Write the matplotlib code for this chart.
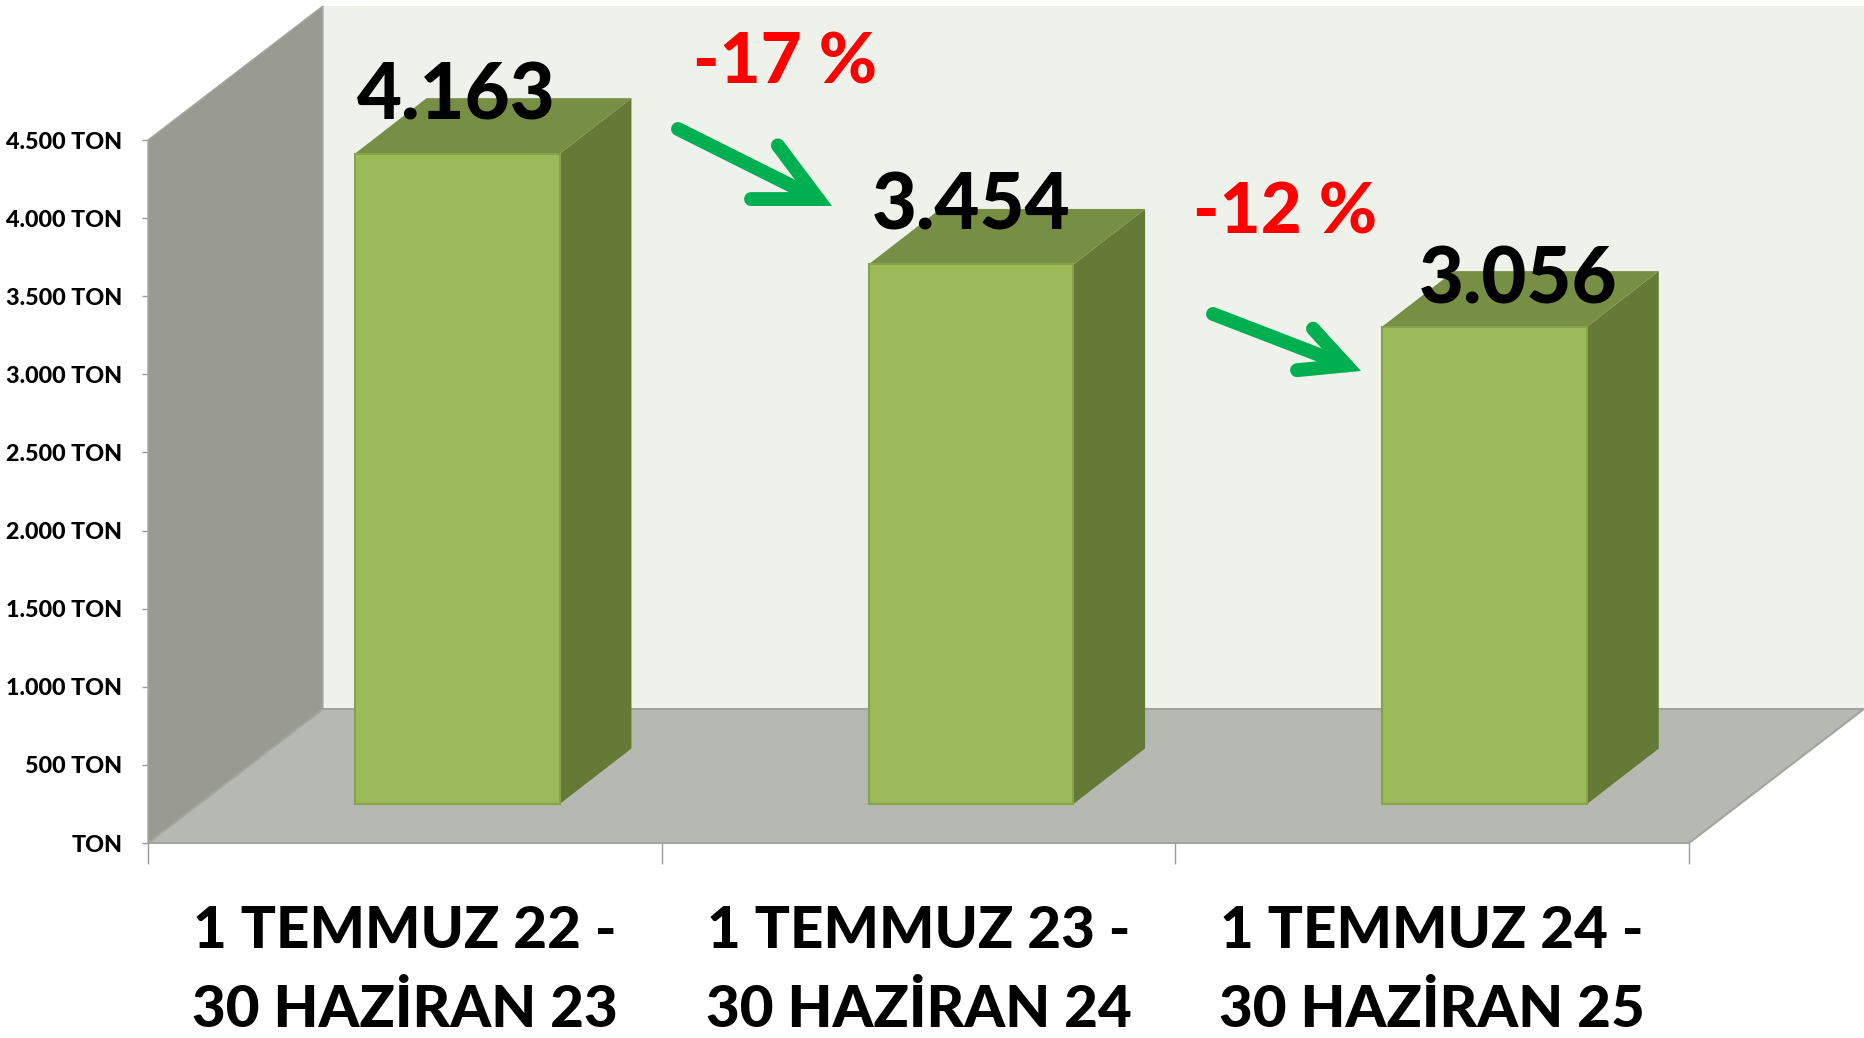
import matplotlib
matplotlib.use("Agg")
import matplotlib.pyplot as plt
from matplotlib.patches import Polygon

categories = ["1 TEMMUZ 22 -\n30 HAZİRAN 23", "1 TEMMUZ 23 -\n30 HAZİRAN 24", "1 TEMMUZ 24 -\n30 HAZİRAN 25"]
values = [4163, 3454, 3056]
value_labels = ["4.163", "3.454", "3.056"]
y_ticks = [0, 500, 1000, 1500, 2000, 2500, 3000, 3500, 4000, 4500]
y_tick_labels = ["TON", "500 TON", "1.000 TON", "1.500 TON", "2.000 TON", "2.500 TON",
                 "3.000 TON", "3.500 TON", "4.000 TON", "4.500 TON"]
change_labels = ["-17 %", "-12 %"]

W, H = 1864, 1038
plt.rcParams['font.family'] = ['Lato', 'DejaVu Sans']
fig = plt.figure(figsize=(W / 100, H / 100), dpi=100, facecolor='white')
ax = fig.add_axes([148 / W, (H - 843) / H, (1689 - 148) / W, 703 / H])
ax.set_xlim(0, 3)
ax.set_ylim(0, 4500)
ax.patch.set_visible(False)
for s in ax.spines.values():
    s.set_visible(False)

DX = 175 / 514
DY = 134 / (703 / 4500)
TOP = 4500


def poly(pts, fc, ec='none', lw=0, z=1):
    ax.add_patch(Polygon(pts, closed=True, facecolor=fc, edgecolor=ec, linewidth=lw,
                         zorder=z, clip_on=False))


# back wall, side wall, floor
poly([(DX, DY), (3 + DX, DY), (3 + DX, TOP + DY), (DX, TOP + DY)], '#EFF2EB', z=1)
poly([(0, 0), (DX, DY), (DX, TOP + DY), (0, TOP)], '#999B93', ec='#A6A8A0', lw=1, z=2)
poly([(0, 0), (3, 0), (3 + DX, DY), (DX, DY)], '#B6B9B1', ec='#A3A59D', lw=1.5, z=2)

# bars
BAR_W = 205 / 514
D0X, D0Y = 0.30, 0.291
OX, OY = 0.41, 0.414
for i, v in enumerate(values):
    c = i + 0.5 + D0X * DX
    x0, x1 = c - BAR_W / 2, c + BAR_W / 2
    y0 = D0Y * DY
    ox, oy = OX * DX, OY * DY
    poly([(x1, y0), (x1 + ox, y0 + oy), (x1 + ox, y0 + oy + v), (x1, y0 + v)], '#667A37', z=3)
    poly([(x0, y0 + v), (x1, y0 + v), (x1 + ox, y0 + v + oy), (x0 + ox, y0 + v + oy)], '#778E45', z=3)
    poly([(x0, y0), (x1, y0), (x1, y0 + v), (x0, y0 + v)], '#9BBB59', ec='#86A34A', lw=1.5, z=4)

# ticks
ax.set_yticks(y_ticks, y_tick_labels)
ax.tick_params(axis='y', length=4, width=1, color='#9A9A9A', pad=14.5, labelsize=16.8, labelcolor='black')
ax.set_xticks([0, 1, 2, 3], ['', '', '', ''])
ax.set_xticks([0.5, 1.5, 2.5], categories, minor=True)
ax.tick_params(axis='x', which='major', length=15, width=1, color='#9A9A9A')
ax.tick_params(axis='x', which='minor', length=0, pad=45, labelsize=42)
for t in ax.get_yticklabels() + ax.get_xticklabels(minor=True):
    t.set_fontweight(900)
for t in ax.get_xticklabels(minor=True):
    t.set_linespacing(1.6)


def px(x, y):
    return (x, H - y)


# value labels (pixel positions of the label text on the figure)
for lab, (x, y) in zip(value_labels, [(456, 119), (971, 229), (1518, 303)]):
    ax.annotate(lab, xy=px(x, y), xycoords='figure pixels', ha='center', va='baseline',
                fontsize=56, fontweight=900, color='black', zorder=8, annotation_clip=False)

for lab, (x, y) in zip(change_labels, [(785, 84), (1285, 234)]):
    ax.annotate(lab, xy=px(x, y), xycoords='figure pixels', ha='center', va='baseline',
                fontsize=51, fontweight=900, color='#FF0000', zorder=8, annotation_clip=False)

# arrows
for start, tip, hl, hw in [((678, 129), (832, 206), 2.7, 1.35), ((1213, 314), (1361, 371), 2.0, 1.0)]:
    ax.annotate('', xy=px(*tip), xytext=px(*start), xycoords='figure pixels', textcoords='figure pixels',
                arrowprops=dict(arrowstyle=f'->,head_length={hl},head_width={hw}', lw=10, color='#00B050',
                                shrinkA=0, shrinkB=0, joinstyle='miter', capstyle='round', mutation_scale=16),
                zorder=7, annotation_clip=False)

fig.savefig('out.png', dpi=100, facecolor='white')
